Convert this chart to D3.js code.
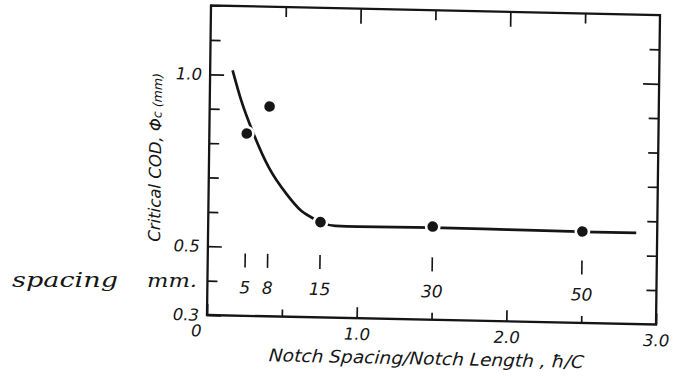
<!DOCTYPE html>
<html>
<head>
<meta charset="utf-8">
<script src="https://cdn.jsdelivr.net/npm/d3@7"></script>
<style>
    html, body { margin: 0; padding: 0; background: #fff; }
    svg { display: block; }
    text { font-family: 'DejaVu Sans', sans-serif; font-style: italic; fill: #151515; }
    .hand { font-family: 'DejaVu Serif', serif; font-style: italic; }
    .tick line { stroke: #151515; stroke-width: 1.7; }
</style>
</head>
<body>
<div id="chart"></div>
<script>
// measured points: notch spacing / notch length vs critical COD (mm)
const hcRatio = [0.25, 0.4, 0.75, 1.5, 2.5];
const codValues = [0.83, 0.91, 0.577, 0.571, 0.566];
const spacingMm = ['5', '8', '15', '30', '50'];

// hand drawn trend line
const curveX = [0.15, 0.21, 0.30, 0.40, 0.52, 0.62, 0.69, 0.75, 0.85, 1.0, 1.5, 2.0, 2.5, 2.86];
const curveY = [1.013, 0.926, 0.825, 0.733, 0.657, 0.609, 0.59, 0.577, 0.567, 0.566, 0.568, 0.567, 0.565, 0.565];

// ticks
const xTicks = [0, 0.5, 1, 1.5, 2, 2.5, 3];
const xTickLabels = ['0', '', '1.0', '', '2.0', '', '3.0'];
const yTicks = [0.3, 0.4, 0.5, 0.6, 0.7, 0.8, 0.9, 1.0, 1.1, 1.2];
const yTickLabels = ['0.3', '', '0.5', '', '', '', '', '1.0', '', ''];

const width = 674;
const height = 377;
const plotW = 449;
const plotH = 309.5;

const svg = d3.select('#chart')
    .append('svg')
    .attr('width', width)
    .attr('height', height);

// the scanned page is a little skewed, so the plot is too
const plot = svg.append('g')
    .attr('transform', 'matrix(1, 0.0212, -0.0129, 1, 211, 5.5)');

const xScale = d3.scaleLinear().domain([0, 3]).range([0, plotW]);
const yScale = d3.scaleLinear().domain([0.3, 1.2]).range([plotH, 0]);

const xMajor = d => xTickLabels[xTicks.indexOf(d)] !== '';
const yMajor = d => yTickLabels[yTicks.indexOf(d)] !== '';

// left axis
const yLeft = plot.append('g')
    .call(d3.axisLeft(yScale).tickValues(yTicks).tickSize(-10).tickPadding(8)
        .tickFormat((d, i) => yTickLabels[i]));
yLeft.select('.domain').remove();
yLeft.selectAll('.tick line').attr('x2', d => yMajor(d) ? 14 : 10);
yLeft.selectAll('text').style('font-size', '16.5px');

// right axis
const yRight = plot.append('g')
    .attr('transform', `translate(${plotW},0)`)
    .call(d3.axisRight(yScale).tickValues(yTicks.slice(1, -1)).tickSize(-10).tickFormat(''));
yRight.select('.domain').remove();
yRight.selectAll('.tick line').attr('x2', d => d === 1.0 ? -16 : -10);

// top axis
const xTop = plot.append('g')
    .call(d3.axisTop(xScale).tickValues(xTicks.slice(1, -1)).tickSize(-10).tickFormat(''));
xTop.select('.domain').remove();
xTop.selectAll('.tick line').attr('y2', d => xMajor(d) ? 15 : 10);

// bottom axis
const xBottom = plot.append('g')
    .attr('transform', `translate(0,${plotH})`)
    .call(d3.axisBottom(xScale).tickValues(xTicks).tickSize(-7).tickPadding(10)
        .tickFormat((d, i) => xTickLabels[i]));
xBottom.select('.domain').remove();
xBottom.selectAll('.tick line').attr('y2', d => xMajor(d) ? -11 : -7);
xBottom.selectAll('text').style('font-size', '16.5px');
xBottom.selectAll('.tick').filter(d => d === 0).select('text').attr('x', -11);

// frame
plot.append('rect')
    .attr('x', 0)
    .attr('y', 0)
    .attr('width', plotW)
    .attr('height', plotH)
    .attr('fill', 'none')
    .attr('stroke', '#151515')
    .attr('stroke-width', 2.3);

// trend line
const line = d3.line()
    .curve(d3.curveMonotoneX)
    .x(d => xScale(d[0]))
    .y(d => yScale(d[1]));

plot.append('path')
    .datum(curveX.map((x, i) => [x, curveY[i]]))
    .attr('fill', 'none')
    .attr('stroke', '#151515')
    .attr('stroke-width', 2.7)
    .attr('d', line);

// points, with a white halo that breaks the line
plot.append('g')
    .selectAll('circle')
    .data(hcRatio)
    .join('circle')
    .attr('cx', d => xScale(d))
    .attr('cy', (d, i) => yScale(codValues[i]))
    .attr('r', 6.6)
    .attr('fill', '#151515')
    .attr('stroke', '#fff')
    .attr('stroke-width', 2.6);

// notch spacing notes under each point
const notes = plot.append('g');
notes.selectAll('line')
    .data(hcRatio)
    .join('line')
    .attr('x1', d => xScale(d))
    .attr('x2', d => xScale(d))
    .attr('y1', yScale(0.4) - 28)
    .attr('y2', yScale(0.4) - 14)
    .attr('stroke', '#151515')
    .attr('stroke-width', 1.6);

notes.selectAll('text')
    .data(hcRatio)
    .join('text')
    .attr('x', d => xScale(d))
    .attr('y', yScale(0.4) + 12)
    .attr('text-anchor', 'middle')
    .style('font-size', '17px')
    .text((d, i) => spacingMm[i]);

// axis titles
plot.append('text')
    .attr('transform', `translate(${plotW / 2 - 5},${plotH + 45}) skewX(-4)`)
    .attr('text-anchor', 'middle')
    .attr('textLength', 315)
    .attr('lengthAdjust', 'spacingAndGlyphs')
    .style('font-size', '17.5px')
    .text('Notch Spacing/Notch Length ,  ħ/C');

const yTitle = plot.append('text')
    .attr('transform', `translate(-48,${yScale(0.755)}) rotate(-90)`)
    .attr('text-anchor', 'middle')
    .style('font-size', '16.5px');
yTitle.append('tspan').text('Critical COD, Φ');
yTitle.append('tspan').style('font-size', '12.5px').text('c (mm)');

// handwritten margin note
svg.append('text')
    .attr('class', 'hand')
    .attr('x', 12)
    .attr('y', 287)
    .attr('textLength', 106)
    .attr('lengthAdjust', 'spacingAndGlyphs')
    .style('font-size', '20px')
    .text('spacing');

svg.append('text')
    .attr('class', 'hand')
    .attr('x', 147)
    .attr('y', 287)
    .attr('textLength', 50)
    .attr('lengthAdjust', 'spacingAndGlyphs')
    .style('font-size', '18px')
    .text('mm.');
</script>
</body>
</html>
